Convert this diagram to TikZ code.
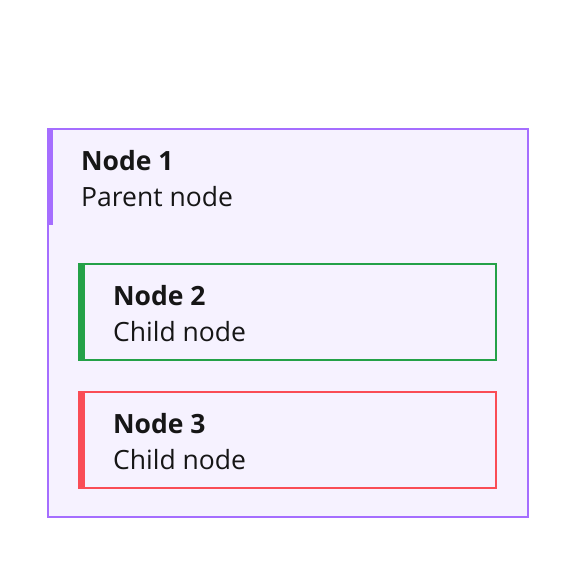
\documentclass[tikz,border=0pt]{standalone}
\usepackage{fontspec}
\setmainfont{Open Sans}[BoldFont={Open Sans Bold}]
\definecolor{txt}{HTML}{161616}
\definecolor{pfill}{HTML}{F6F2FF}
\definecolor{purp}{HTML}{A56EFF}
\definecolor{grn}{HTML}{24A148}
\definecolor{rd}{HTML}{FA4D56}
\tikzset{
  box/.style={draw=#1, line width=1.5pt, anchor=north west, inner sep=0pt, outer sep=0pt},
  bar/.style={fill=#1, draw=none, anchor=north west, inner sep=0pt, outer sep=0pt, minimum width=7pt},
  title/.style={anchor=base west, inner sep=0pt, text=txt, font=\fontsize{26.5}{32}\selectfont\bfseries},
  sub/.style={anchor=base west, inner sep=0pt, text=txt, font=\fontsize{26.5}{32}\selectfont},
}
\begin{document}
\begin{tikzpicture}[x=1pt,y=-1pt]
\useasboundingbox (0,0) rectangle (576,578);
\node[box=purp, fill=pfill, minimum width=480pt, minimum height=388pt] (outer) at (48,129) {};
\node[bar=purp, minimum height=97pt, minimum width=6pt] (obar) at (47.25,128.25) {};
\node[title] (t1) at (81,170) {Node 1};
\node[sub] (s1) at (81,206) {Parent node};
\node[box=grn, minimum width=417pt, minimum height=96pt] (n2) at (79,264) {};
\node[bar=grn, minimum height=97.5pt] (b2) at (78.25,263.25) {};
\node[title] (t2) at (113,305) {Node 2};
\node[sub] (s2) at (113,341) {Child node};
\node[box=rd, minimum width=417pt, minimum height=96pt] (n3) at (79,392) {};
\node[bar=rd, minimum height=97.5pt] (b3) at (78.25,391.25) {};
\node[title] (t3) at (113,433) {Node 3};
\node[sub] (s3) at (113,469) {Child node};
\end{tikzpicture}
\end{document}
